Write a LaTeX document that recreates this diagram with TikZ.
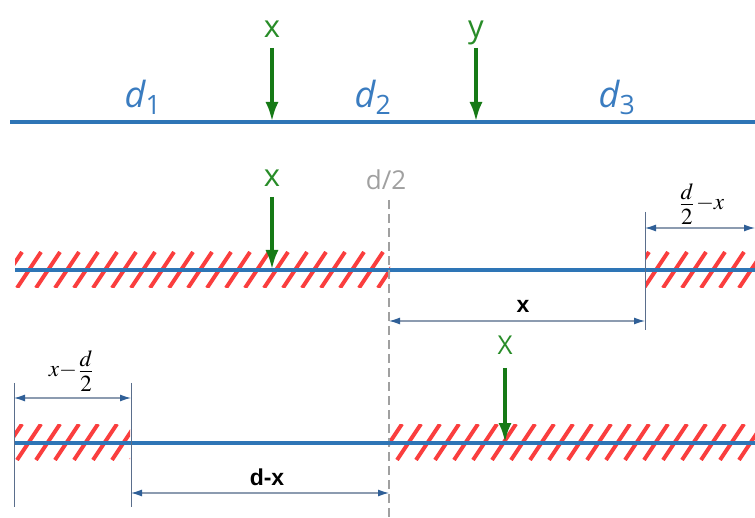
\documentclass[tikz,border=0pt]{standalone}
\usepackage{mathptmx}
\usepackage{graphicx}
\usepackage{fontspec}
\setmainfont{Open Sans}
\newfontfamily\boldsans{Liberation Sans}
\usetikzlibrary{arrows.meta}
\definecolor{beamblue}{RGB}{46,117,182}
\definecolor{labblue}{RGB}{58,124,192}
\definecolor{loadgreen}{RGB}{22,122,22}
\definecolor{labgreen}{RGB}{40,140,40}
\definecolor{hatchred}{RGB}{250,62,62}
\definecolor{dimhead}{RGB}{47,95,151}
\definecolor{dimline}{RGB}{140,155,176}
\definecolor{extline}{RGB}{90,110,140}
\definecolor{midgray}{RGB}{160,160,160}
\tikzset{
  beam/.style={draw=beamblue,line width=4pt},
  load/.style={draw=loadgreen,line width=4.2pt,-{Latex[length=20pt,width=13pt]}},
  loadlab/.style={text=labgreen,font=\fontsize{31}{31}\selectfont,inner sep=0pt,anchor=base},
  seglab/.style={text=labblue,font=\fontsize{36}{36}\selectfont\itshape,inner sep=0pt,anchor=base},
  dimarrow/.style={draw=dimline,line width=1.2pt,{Latex[length=11pt,width=7pt,color=dimhead]}-{Latex[length=11pt,width=7pt,color=dimhead]}},
  extension/.style={draw=extline,line width=0.9pt},
  midline/.style={draw=midgray,line width=1.2pt,dash pattern=on 9pt off 5pt},
  boldlab/.style={font=\boldsans\bfseries\fontsize{23}{23}\selectfont,inner sep=0pt,anchor=base},
  mathlab/.style={inner sep=0pt},
  stripe/.style={draw=hatchred,line width=4pt}
}
\newcommand{\hatchbox}[4]{%
  \begin{scope}
    \clip (#1,#3) rectangle (#2,#4);
    \foreach \i in {-40,-21,...,760} {
      \draw[stripe] (\i,#4) -- ++(24,-36);
    }
  \end{scope}}
\newcommand{\halfd}{\frac{\textstyle d\rule[-1.3pt]{0pt}{1.3pt}}{\textstyle 2\rule{0pt}{8.2pt}}}
\begin{document}
\begin{tikzpicture}[x=1pt,y=-1pt]
\useasboundingbox (0,0) rectangle (755,518);

% ---------- row 1 ----------
\coordinate (b1l) at (10,122);
\coordinate (b1r) at (755,122);
\draw[beam] (b1l) -- (b1r);
\node[seglab] (d1) at (143,108) {d\textsubscript{\upshape 1}};
\node[seglab] (d2) at (373,108) {d\textsubscript{\upshape 2}};
\node[seglab] (d3) at (617,108) {d\textsubscript{\upshape 3}};
\node[loadlab] (lx1) at (272,38) {x};
\node[loadlab] (ly1) at (476,38) {y};
\coordinate (ax1s) at (272,48);
\coordinate (ax1e) at (272,122);
\coordinate (ay1s) at (476,48);
\coordinate (ay1e) at (476,122);
\draw[load] (ax1s) -- (ax1e);
\draw[load] (ay1s) -- (ay1e);

% ---------- row 2 ----------
\hatchbox{15}{390}{252}{288}
\hatchbox{645}{755}{252}{288}
\coordinate (b2l) at (15,270);
\coordinate (b2r) at (755,270);
\draw[beam] (b2l) -- (b2r);
\node[loadlab] (lx2) at (272,187) {x};
\coordinate (ax2s) at (272,197);
\coordinate (ax2e) at (272,270);
\draw[load] (ax2s) -- (ax2e);

\node[text=midgray,font=\fontsize{26}{26}\selectfont,inner sep=0pt,anchor=base] (half) at (386,190) {d/2};
\coordinate (mtop) at (389,200);
\coordinate (mbot) at (389,518);
\draw[midline] (mtop) -- (mbot);

\coordinate (e2t) at (645,212);
\coordinate (e2b) at (645,330);
\draw[extension] (e2t) -- (e2b);
\coordinate (dx2a) at (389,321);
\coordinate (dx2b) at (645,321);
\draw[dimarrow] (dx2a) -- (dx2b);
\node[boldlab] (lbx) at (523,313) {x};
\coordinate (dr2a) at (645,228);
\coordinate (dr2b) at (755,228);
\draw[dimarrow] (dr2a) -- (dr2b);
\node[mathlab] (fr1) at (701,204) {\scalebox{2.3}{$\halfd{-}x$}};

% ---------- row 3 ----------
\hatchbox{15}{130}{424}{460}
\hatchbox{390}{755}{424}{460}
\coordinate (b3l) at (15,443);
\coordinate (b3r) at (755,443);
\draw[beam] (b3l) -- (b3r);
\node[loadlab,font=\fontsize{26}{26}\selectfont] (lx3) at (505,355) {X};
\coordinate (ax3s) at (505,368);
\coordinate (ax3e) at (505,443);
\draw[load] (ax3s) -- (ax3e);

\coordinate (e3at) at (14,383);
\coordinate (e3ab) at (14,507);
\coordinate (e3bt) at (131,383);
\coordinate (e3bb) at (131,507);
\draw[extension] (e3at) -- (e3ab);
\draw[extension] (e3bt) -- (e3bb);
\coordinate (dl3a) at (14,398);
\coordinate (dl3b) at (131,398);
\draw[dimarrow] (dl3a) -- (dl3b);
\node[mathlab] (fr2) at (72,371) {\scalebox{2.3}{$x{-}\halfd$}};
\coordinate (dm3a) at (131,493);
\coordinate (dm3b) at (389,493);
\draw[dimarrow] (dm3a) -- (dm3b);
\node[boldlab] (ldx) at (267,485) {d-x};
\end{tikzpicture}
\end{document}
